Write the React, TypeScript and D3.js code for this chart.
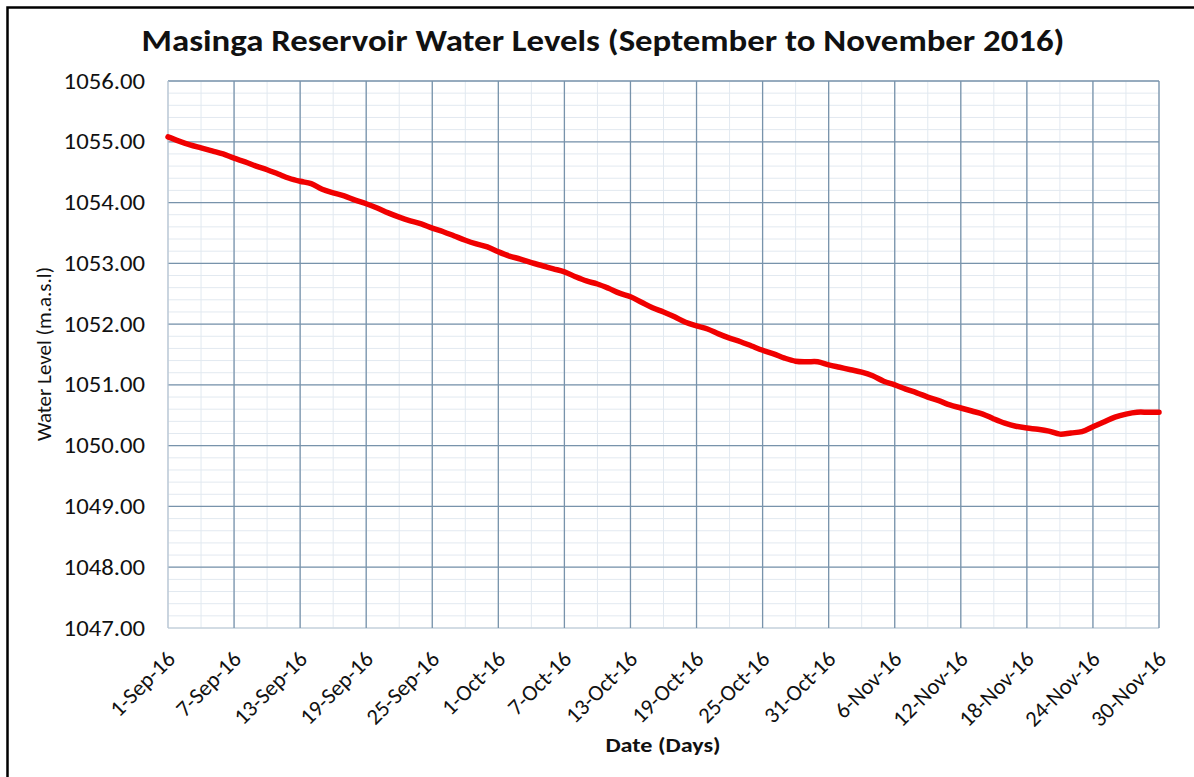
import React from 'react';
import * as d3 from 'd3';

const startDate = new Date(2016, 8, 1);
// daily water level, 1 Sep to 30 Nov 2016 (m.a.s.l)
const levels = [
  1055.08, 1055.01, 1054.95, 1054.9, 1054.85, 1054.8, 1054.73, 1054.67, 1054.6, 1054.54,
  1054.47, 1054.4, 1054.35, 1054.31, 1054.22, 1054.16, 1054.11, 1054.04, 1053.98, 1053.91,
  1053.83, 1053.76, 1053.7, 1053.65, 1053.58, 1053.52, 1053.45, 1053.38, 1053.32, 1053.27,
  1053.19, 1053.12, 1053.07, 1053.01, 1052.96, 1052.91, 1052.86, 1052.78, 1052.71, 1052.66,
  1052.59, 1052.51, 1052.45, 1052.36, 1052.27, 1052.2, 1052.12, 1052.03, 1051.97, 1051.92,
  1051.84, 1051.77, 1051.71, 1051.64, 1051.57, 1051.51, 1051.44, 1051.39, 1051.38, 1051.38,
  1051.33, 1051.29, 1051.25, 1051.21, 1051.15, 1051.06, 1051.0, 1050.93, 1050.87, 1050.8,
  1050.74, 1050.67, 1050.62, 1050.57, 1050.52, 1050.44, 1050.37, 1050.32, 1050.29, 1050.27,
  1050.24, 1050.19, 1050.21, 1050.23, 1050.31, 1050.39, 1050.47, 1050.52, 1050.55, 1050.55,
  1050.55,
];
const yTicks = [1047, 1048, 1049, 1050, 1051, 1052, 1053, 1054, 1055, 1056];
const majorStepDays = 6;
const minorStepDays = 3;

const W = 1194;
const H = 777;
const margin = { top: 81, right: 35, bottom: 149, left: 168 };

export default function App() {
  const innerW = W - margin.left - margin.right;
  const innerH = H - margin.top - margin.bottom;
  const endDate = d3.timeDay.offset(startDate, levels.length - 1);

  const x = d3.scaleTime().domain([startDate, endDate]).range([0, innerW]);
  const y = d3.scaleLinear().domain([1047, 1056]).range([innerH, 0]);

  const data = levels.map((v, i) => ({ date: d3.timeDay.offset(startDate, i), v }));
  const nDays = levels.length - 1;
  const majorX = d3.range(0, nDays + 1, majorStepDays).map(d => d3.timeDay.offset(startDate, d));
  const minorX = d3.range(0, nDays + 1, minorStepDays).map(d => d3.timeDay.offset(startDate, d));
  const minorY = d3.range(1047, 1056.001, 0.2);
  const fmt = d3.timeFormat('%-d-%b-%y');

  const line = d3.line<{ date: Date; v: number }>()
    .x(d => x(d.date))
    .y(d => y(d.v))
    .curve(d3.curveCatmullRom);

  const font = 'Calibri, Carlito, "Open Sans", sans-serif';
  const ink = '#111';
  const grid = '#7893ab';

  return (
    <svg width={W} height={H} style={{ position: 'absolute', left: 0, top: 0, background: '#fff' }}>
      {/* frame */}
      <path d={`M7.5,${H} V7.5 H${W}`} fill="none" stroke="#000" strokeWidth={2.5} />
      <text transform="translate(603,51) scale(1.16,1)" textAnchor="middle" fontFamily={font} fontWeight="bold" fontSize={30} fill={ink}>
        Masinga Reservoir Water Levels (September to November 2016)
      </text>
      <g transform={`translate(${margin.left},${margin.top})`}>
        {minorY.map((t, i) => (
          <line key={'my' + i} x1={0} x2={innerW} y1={y(t)} y2={y(t)} stroke="#e2e9f0" strokeWidth={1} />
        ))}
        {minorX.map((t, i) => (
          <line key={'mx' + i} x1={x(t)} x2={x(t)} y1={0} y2={innerH} stroke="#e2e9f0" strokeWidth={1} />
        ))}
        {yTicks.map(t => (
          <line key={'gy' + t} x1={0} x2={innerW} y1={y(t)} y2={y(t)}
            stroke={t === 1047 ? '#c9d4de' : grid} strokeWidth={1.3} />
        ))}
        {majorX.map((t, i) => (
          <line key={'gx' + i} x1={x(t)} x2={x(t)} y1={0} y2={innerH}
            stroke={i === 0 ? '#b5c4d2' : grid} strokeWidth={1.3} />
        ))}
        <path d={line(data) || ''} fill="none" stroke="#f00000" strokeWidth={5.5} strokeLinejoin="round" strokeLinecap="round" />
        {yTicks.map(t => (
          <text key={'ly' + t} transform={`translate(-23,${y(t)}) scale(1.15,1)`} dy="0.35em" textAnchor="end"
            fontFamily={font} fontSize={21.5} fill={ink}>
            {d3.format('.2f')(t)}
          </text>
        ))}
        {majorX.map((t, i) => (
          <text key={'lx' + i} transform={`translate(${x(t) - 3},${innerH + 21}) rotate(-45)`}
            textAnchor="end" dy="0.72em" fontFamily={font} fontSize={22.5} fill={ink}>
            {fmt(t)}
          </text>
        ))}
      </g>
      <text transform="translate(663,752) scale(1.15,1)" textAnchor="middle" fontFamily={font} fontWeight="bold" fontSize={21} fill={ink}>
        Date (Days)
      </text>
      <text transform="translate(51,354) rotate(-90)" textAnchor="middle" fontFamily={font} fontSize={21} fill={ink}>
        Water Level (m.a.s.l)
      </text>
    </svg>
  );
}
